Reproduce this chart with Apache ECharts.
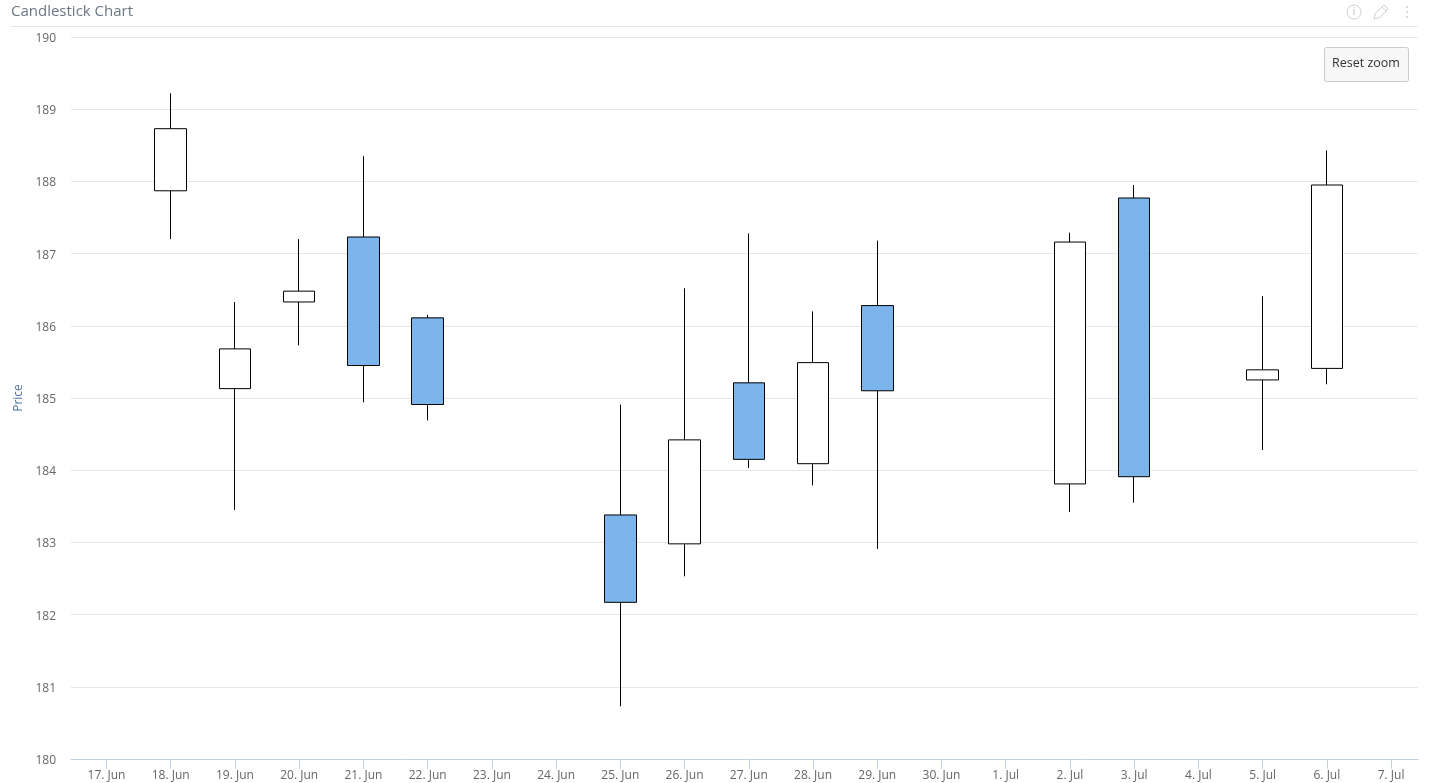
<!DOCTYPE html>
<html><head><meta charset="utf-8">
<style>html,body{margin:0;padding:0;background:#fff}#c{width:1433px;height:783px}</style>
<script src="https://cdn.jsdelivr.net/npm/echarts@6/dist/echarts.min.js"></script>
</head><body><div id="c"></div>
<script>
const dates = ['2023-06-18','2023-06-19','2023-06-20','2023-06-21','2023-06-22','2023-06-25','2023-06-26','2023-06-27','2023-06-28','2023-06-29','2023-07-02','2023-07-03','2023-07-05','2023-07-06'];
const opens  = [188.73,185.68,186.48,185.45,184.91,182.17,184.42,184.15,185.49,185.10,187.16,183.91,185.39,187.95];
const closes = [187.87,185.13,186.33,187.23,186.11,183.38,182.98,185.21,184.09,186.28,183.81,187.77,185.25,185.41];
const lows   = [187.20,183.45,185.73,184.94,184.69,180.73,182.53,184.03,183.79,182.91,183.42,183.55,184.28,185.19];
const highs  = [189.22,186.33,187.20,188.35,186.15,184.91,186.52,187.28,186.20,187.18,187.29,187.95,186.41,188.43];
const DAY = 86400000;
const first = new Date(2023,5,17).getTime(), last = new Date(2023,6,7).getTime();
const months = ['Jan','Feb','Mar','Apr','May','Jun','Jul','Aug','Sep','Oct','Nov','Dec'];
const font = '"Open Sans"';
const chart = echarts.init(document.getElementById('c'));
chart.setOption({
  animation:false,
  textStyle:{fontFamily:font},
  title:{text:'Candlestick Chart',left:11,top:4,padding:0,textStyle:{fontFamily:font,fontSize:15,fontWeight:'normal',color:'#6b7686'}},
  grid:{left:71,right:15,top:37,bottom:24,containLabel:false},
  xAxis:{type:'time',min:first-0.5526*DAY,max:last+0.4186*DAY,minInterval:DAY,maxInterval:DAY,
    axisLine:{lineStyle:{color:'#c0d0e8',width:1}},axisTick:{length:10,lineStyle:{color:'#c0d0e8'},alignWithLabel:true},
    splitLine:{show:false},minorSplitLine:{show:false},
    axisLabel:{fontFamily:font,fontSize:12,color:'#666',margin:11,hideOverlap:false,showMinLabel:false,showMaxLabel:false,
      formatter:v=>{const d=new Date(v);return d.getDate()+'. '+months[d.getMonth()];}}},
  yAxis:{type:'value',min:180,max:190,interval:1,name:'Price',nameLocation:'middle',nameGap:46,
    nameTextStyle:{fontFamily:font,fontSize:12,color:'#4d759e'},
    axisLine:{show:false},axisTick:{show:false},splitLine:{lineStyle:{color:'#e6e6e6',width:1}},
    axisLabel:{fontFamily:font,fontSize:12,color:'#666',margin:15,verticalAlign:'top',lineHeight:3}},
  series:[{type:'candlestick',barWidth:32,
    data:dates.map((d,i)=>[d,opens[i],closes[i],lows[i],highs[i]]),
    itemStyle:{color:'#7cb5ec',color0:'#ffffff',borderColor:'#000',borderColor0:'#000',borderWidth:1}}],
  graphic:[
    {type:'line',shape:{x1:11,y1:26.5,x2:1418,y2:26.5},style:{stroke:'#e6e6e6',lineWidth:1},silent:true},
    {type:'rect',shape:{x:1324.5,y:47.5,width:84,height:34,r:2},style:{fill:'#f7f7f7',stroke:'#cccccc',lineWidth:1}},
    {type:'text',x:1366,y:63,style:{text:'Reset zoom',align:'center',verticalAlign:'middle',font:'12.5px "Open Sans"',fill:'#333'}},
    {type:'circle',shape:{cx:1354,cy:12,r:7},style:{fill:'none',stroke:'#cfcfcf',lineWidth:1}},
    {type:'text',x:1354,y:12,style:{text:'i',align:'center',verticalAlign:'middle',font:'10px "Open Sans"',fill:'#bbb'}},
    {type:'polygon',shape:{points:[[1374,19],[1375.5,13],[1384,5],[1388,9],[1380,17.5]]},style:{fill:'none',stroke:'#cfcfcf',lineWidth:1}},
    {type:'line',shape:{x1:1382,y1:7,x2:1386,y2:11},style:{stroke:'#cfcfcf',lineWidth:1}},
    {type:'circle',shape:{cx:1407,cy:7,r:1},style:{fill:'#cfcfcf'}},
    {type:'circle',shape:{cx:1407,cy:12,r:1},style:{fill:'#cfcfcf'}},
    {type:'circle',shape:{cx:1407,cy:17,r:1},style:{fill:'#cfcfcf'}}
  ]
});
</script></body></html>
